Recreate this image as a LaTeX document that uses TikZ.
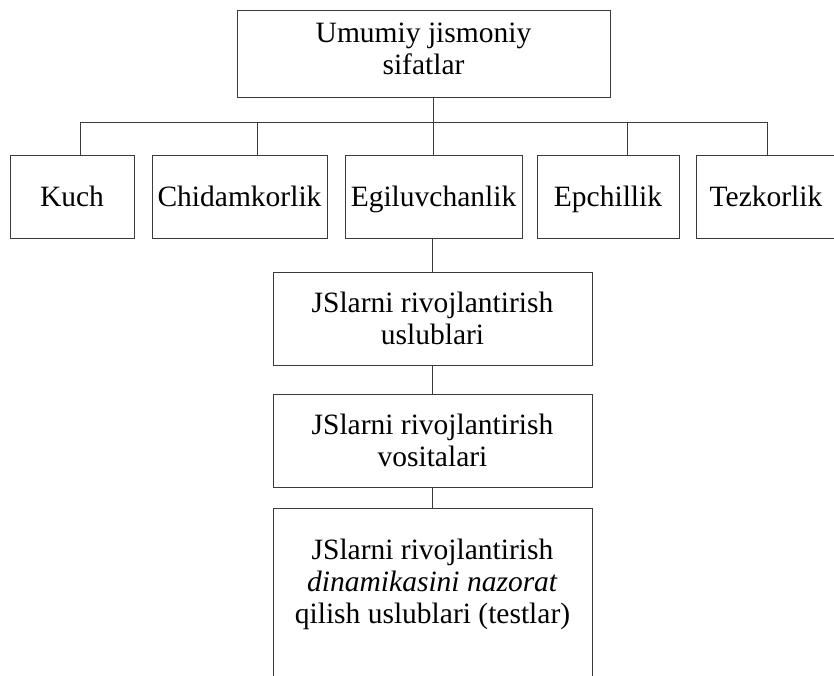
\documentclass[tikz,border=0pt]{standalone}
\usepackage{fontspec}
\setmainfont{Liberation Serif}
\usepackage{tikz}
\usetikzlibrary{positioning}
\definecolor{scanink}{HTML}{3A3A3A}

\begin{document}
\begin{tikzpicture}[x=1pt, y=-1pt, font=\fontsize{29.5}{32}\selectfont,
    box/.style={draw=scanink, line width=0.9pt, rectangle, inner sep=0pt, align=center},
    rowbox/.style={box, minimum height=83, text height=24pt, text depth=4pt},
    link/.style={draw=scanink, line width=0.9pt}]
  \useasboundingbox (0,0) rectangle (834,675);
  \clip (0,0) rectangle (834,675);
  % top box
  \node[box, minimum width=373, minimum height=87] (top) at (423.5,53.5) {Umumiy jismoniy\\sifatlar\\[-22pt]};
  % row of qualities
  \node[rowbox, minimum width=124] (kuch) at (72,196.5)    {Kuch};
  \node[rowbox, minimum width=175] (chid) at (239.5,196.5) {Chidamkorlik};
  \node[rowbox, minimum width=177] (egil) at (433.5,196.5) {Egiluvchanlik};
  \node[rowbox, minimum width=142] (epch) at (608,196.5)   {Epchillik};
  \node[rowbox, minimum width=140] (tez)  at (766,196.5)   {Tezkorlik};
  % column below
  \node[box, minimum width=319, minimum height=93] (usul) at (432.5,318.5) {JSlarni rivojlantirish\\uslublari};
  \node[box, minimum width=319, minimum height=93] (vosi) at (432.5,440.5) {JSlarni rivojlantirish\\vositalari};
  \node[box, minimum width=319, minimum height=200, anchor=north] (test) at (432.5,508) {};
  \node[align=center, inner sep=0pt] (testtxt) at (432.5,584)
    {JSlarni rivojlantirish\\\textit{dinamikasini nazorat}\\qilish uslublari (testlar)};
  % bus line
  \coordinate (bKuch) at (80,122);
  \coordinate (bChid) at (257,122);
  \coordinate (bEgil) at (433,122);
  \coordinate (bEpch) at (627,122);
  \coordinate (bTez)  at (767,122);
  \draw[link] (bKuch) -- (bTez);
  \draw[link] (bEgil |- top.south) -- (bEgil |- egil.north);
  \foreach \b/\n in {bKuch/kuch, bChid/chid, bEpch/epch, bTez/tez}
    \draw[link] (\b) -- (\b |- \n.north);
  % links down the column
  \draw[link] (usul.north |- egil.south) -- (usul.north);
  \draw[link] (usul.south) -- (vosi.north);
  \draw[link] (vosi.south) -- (test.north);
\end{tikzpicture}
\end{document}
